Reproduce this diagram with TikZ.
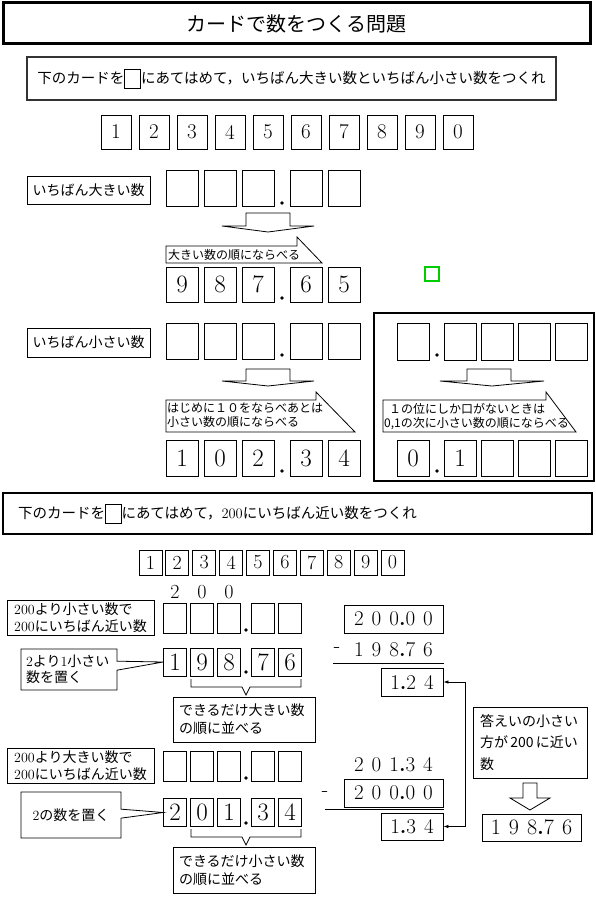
\documentclass[tikz,border=0pt]{standalone}
\usepackage{fontspec}
\newfontfamily\jp{Noto Sans CJK JP}
\usetikzlibrary{positioning,arrows.meta,shapes.callouts}
\definecolor{kimidori}{RGB}{0,204,0}
\newcommand{\waku}{\raisebox{-4pt}{\setlength{\fboxsep}{0pt}\setlength{\fboxrule}{0.8pt}\fbox{\rule{0pt}{18pt}\hspace{15pt}}}}
\newcommand{\rmnum}[1]{{\rmfamily #1}}
\newcommand{\digitgap}{\hspace{8pt}}
\newcommand{\decpt}{{\bfseries .}}

\begin{document}
\begin{tikzpicture}[
		x=1pt, y=-1pt,
		titlebox/.style={draw, line width=3pt, minimum width=587pt, minimum height=41pt, font=\jp\fontsize{20}{24}\selectfont},
		banner/.style={draw, line width=2pt, inner sep=0pt},
		card/.style={draw, line width=0.8pt, inner sep=0pt, minimum width=32pt, minimum height=36pt, font=\fontsize{25}{25}\selectfont},
		topcard/.style={card, minimum width=30pt, minimum height=34pt, font=\fontsize{21}{21}\selectfont},
		tile/.style={draw, line width=0.8pt, inner sep=0pt, minimum width=23pt, minimum height=28pt, font=\fontsize{25}{25}\selectfont},
		toptile/.style={tile, minimum height=25pt, font=\fontsize{20}{20}\selectfont},
		akicard/.style={tile, minimum height=30pt},
		tag/.style={draw, line width=0.8pt, inner sep=0pt, font=\jp\fontsize{14}{17}\selectfont, align=left},
		memo/.style={inner sep=0pt, font=\jp\fontsize{12}{14}\selectfont, align=left},
		blockarrow/.style={draw, line width=0.8pt, fill=white},
		shiki/.style={inner sep=0pt, font=\fontsize{21}{21}\selectfont},
		sumbox/.style={draw, line width=0.8pt, inner sep=0pt, minimum height=28pt, font=\fontsize{21}{21}\selectfont},
		link/.style={{Latex[length=5pt,width=3.5pt]}-{Latex[length=5pt,width=3.5pt]}, line width=0.8pt},
	]
	\useasboundingbox (0,0) rectangle (596,899);

	% ---------- title ----------
	\node[titlebox] (title) at (296.5,23.5) {カードで数をつくる問題};

	% ---------- first task ----------
	\node[banner, draw=black!80, minimum width=529pt, minimum height=43pt, font=\jp\fontsize{14.5}{17}\selectfont] (task1) at (291.5,78.5)
	{下のカードを\waku にあてはめて，いちばん大きい数といちばん小さい数をつくれ};
	\foreach \d [count=\i] in {1,2,3,4,5,6,7,8,9,0}
		\node[topcard] (top\i) at (78+38*\i,132) {\d};

	% largest number
	\node[tag, minimum width=123pt, minimum height=28pt] (maxlabel) at (88.5,190) {いちばん大きい数};
	\foreach \x [count=\i] in {182,220,258,306,344}
		\node[card] (maxa\i) at (\x,188) {};
	\fill (282,203) circle (1.8pt);
	\draw[blockarrow] (246,213) -- (290,213) -- (290,226) -- (314,226) -- (268,232) -- (222,226) -- (246,226) -- cycle;
	\draw[line width=0.8pt] (166,246) -- (297,246) -- (297,237) -- (322,263) -- (166,263) -- cycle;
	\node[memo, anchor=west] (maxnote) at (168,254.5) {大きい数の順にならべる};
	\foreach \x/\d [count=\i] in {182/9,220/8,258/7,306/6,344/5}
		\node[card, minimum height=35pt] (maxb\i) at (\x,284.5) {\d};
	\fill (282,298) circle (1.8pt);
	\draw[kimidori, line width=1.2pt] (425,267) rectangle (439,281);

	% smallest number
	\node[tag, minimum width=123pt, minimum height=29pt] (minlabel) at (88.5,342.5) {いちばん小さい数};
	\foreach \x [count=\i] in {182,220,258,306,344}
		\node[card] (mina\i) at (\x,341.5) {};
	\fill (282,355) circle (1.8pt);
	\draw[blockarrow] (246,369) -- (290,369) -- (290,381) -- (314,381) -- (268,386) -- (222,381) -- (246,381) -- cycle;
	\draw[line width=0.8pt] (166,400) -- (316,400) -- (316,392) -- (355,432) -- (166,432) -- cycle;
	\node[memo, anchor=north west] (minnote) at (167,403) {はじめに１０をならべあとは\\小さい数の順にならべる};
	\foreach \x/\d [count=\i] in {182/1,220/0,258/2,306/3,344/4}
		\node[card] (minb\i) at (\x,458.5) {\d};
	\fill (282,471) circle (1.8pt);

	% ---------- case with a zero ----------
	\node[banner, line width=2.5pt, minimum width=220pt, minimum height=168pt] (zerobox) at (484,397) {};
	\foreach \x [count=\i] in {413,460,497,534,571}
		\node[card, minimum height=37pt] (zeroa\i) at (\x,341.5) {};
	\fill (437,355) circle (1.8pt);
	\draw[blockarrow] (467,369) -- (511,369) -- (511,381) -- (544,381) -- (492,386) -- (440,381) -- (467,381) -- cycle;
	\draw[line width=0.8pt] (383,400) -- (546,400) -- (546,392) -- (576,432) -- (383,432) -- cycle;
	\node[memo, anchor=north west] (zeronote) at (384,403) {\hspace{5pt}１の位にしか口がないときは\\0,1の次に小さい数の順にならべる};
	\node[card] (zerob1) at (413,458.5) {0};
	\node[card] (zerob2) at (460,458.5) {1};
	\foreach \x [count=\i from 3] in {497,534,571}
		\node[card] (zerob\i) at (\x,458.5) {};
	\fill (437,471) circle (1.8pt);

	% ---------- second task ----------
	\node[banner, line width=2.5pt, text width=559pt, inner xsep=15pt, minimum height=41pt, align=left, font=\jp\fontsize{14.5}{17}\selectfont] (task2) at (297.5,513.5)
	{下のカードを\waku にあてはめて，\rmnum{200}にいちばん近い数をつくれ};
	\foreach \d [count=\i] in {1,2,3,4,5,6,7,8,9,0}
		\node[toptile] (row\i) at (123.5+26.9*\i,562.5) {\d};
	\foreach \x/\d [count=\i] in {175/2,202/0,229/0}
		\node[shiki, font=\fontsize{20}{20}\selectfont] (hund\i) at (\x,592) {\d};

	% less than 200
	\node[tag, minimum width=147pt, minimum height=35pt] (lesslabel) at (80.5,617.5) {\rmnum{200}より小さい数で\\\rmnum{200}にいちばん近い数};
	\foreach \x [count=\i] in {175,202,229,263,290}
		\node[akicard] (lessa\i) at (\x,618) {};
	\fill (246,630) circle (1.8pt);
	\foreach \x/\d [count=\i] in {175/1,202/9,229/8,263/7,290/6}
		\node[tile] (less\i) at (\x,662) {\d};
	\fill (246,672) circle (1.8pt);
	\node[tag, rectangle callout, callout absolute pointer={(less1.west)}, callout pointer width=9pt,
		text width=86pt, inner xsep=5pt, minimum height=41pt, font=\jp\fontsize{14}{16}\selectfont] (put1) at (69,669.5)
	{\rmnum{2}より\rmnum{1}小さい\\数を置く};
	\draw[line width=0.8pt] (191,679) |- (242,687) -- (246,695) -- (250,687) -| (301,679);
	\node[tag, text width=130pt, inner xsep=6pt, minimum height=45pt, font=\jp\fontsize{14}{18}\selectfont] (bignote) at (244,719.5)
	{できるだけ大きい数\\の順に並べる};

	% more than 200
	\node[tag, minimum width=147pt, minimum height=35pt] (morelabel) at (80.5,765.5) {\rmnum{200}より大きい数で\\\rmnum{200}にいちばん近い数};
	\foreach \x [count=\i] in {175,202,229,263,290}
		\node[akicard] (morea\i) at (\x,766) {};
	\fill (246,778) circle (1.8pt);
	\foreach \x/\d [count=\i] in {175/2,202/0,229/1,263/3,290/4}
		\node[tile] (more\i) at (\x,812.5) {\d};
	\fill (246,823) circle (1.8pt);
	\node[tag, rectangle callout, callout absolute pointer={(more1.west)}, callout pointer width=9pt,
		minimum width=100pt, minimum height=46pt, align=center] (put2) at (71,815) {\rmnum{2}の数を置く};
	\draw[line width=0.8pt] (191,829) |- (242,837) -- (246,845) -- (250,837) -| (301,829);
	\node[tag, text width=130pt, inner xsep=6pt, minimum height=46pt, font=\jp\fontsize{14}{18}\selectfont] (smallnote) at (244,870)
	{できるだけ小さい数\\の順に並べる};

	% ---------- subtractions ----------
	\node[sumbox, minimum width=99pt] (big1) at (393.5,619) {2\digitgap0\digitgap0\decpt0\digitgap0};
	\node[shiki] (minus1) at (337,650) {-};
	\node[shiki] (small1) at (393.5,650) {1\digitgap9\digitgap8\decpt7\digitgap6};
	\draw[line width=0.8pt] (333,663) -- (444,663);
	\node[sumbox, minimum width=62pt] (diff1) at (412,682) {1\decpt2\digitgap4};

	\node[shiki] (big2) at (393.5,765) {2\digitgap0\digitgap1\decpt3\digitgap4};
	\node[shiki] (minus2) at (325,794) {-};
	\node[sumbox, minimum width=99pt] (small2) at (393.5,793) {2\digitgap0\digitgap0\decpt0\digitgap0};
	\draw[line width=0.8pt] (325,809) -- (444,809);
	\node[sumbox, minimum width=62pt, minimum height=27pt] (diff2) at (412,826.5) {1\decpt3\digitgap4};

	\draw[link] (diff1.east) -- ++(22,0) |- (diff2.east);

	% ---------- answer ----------
	\node[tag, text width=100pt, inner xsep=7pt, minimum height=71pt, font=\jp\fontsize{14}{21.5}\selectfont] (answer) at (530,742.5)
	{答えいの小さい\\方が\,200\,に近い\\数};
	\draw[blockarrow] (523,783) -- (537,783) -- (537,798) -- (550,798) -- (530,810) -- (510,798) -- (523,798) -- cycle;
	\node[sumbox, minimum width=99pt, minimum height=27pt, font=\fontsize{22}{22}\selectfont] (result) at (531.5,827.5)
	{1\digitgap9\digitgap8\decpt7\digitgap6};

\end{tikzpicture}
\end{document}
